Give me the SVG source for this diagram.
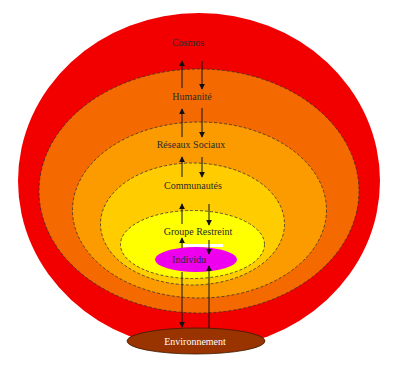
<svg xmlns="http://www.w3.org/2000/svg" width="400" height="373" viewBox="0 0 400 373">
<style>
.ring{stroke:#333;stroke-width:0.8;stroke-dasharray:3 2}
.lbl{font-family:"Liberation Serif","DejaVu Serif","Times New Roman",serif;font-size:10px;fill:#2a2a2a;text-anchor:middle}
.arr{stroke:#111;stroke-width:1;fill:none;marker-end:url(#ah)}
</style>
<defs>
<marker id="ah" viewBox="0 0 8 8" refX="7" refY="4" markerWidth="6" markerHeight="6" orient="auto" markerUnits="userSpaceOnUse">
<path d="M0,0 L8,4 L0,8 z" fill="#111"/>
</marker>
</defs>
<rect width="400" height="373" fill="#fff"/>
<g id="cosmos">
<ellipse cx="199" cy="181" rx="181" ry="168" fill="#f20000"/>
<text class="lbl" font-family="Liberation Serif, serif" x="188" y="46">Cosmos</text>
</g>
<g id="humanite">
<ellipse class="ring" cx="199" cy="191" rx="160" ry="122" fill="#f56a00"/>
<text class="lbl" font-family="Liberation Serif, serif" x="192" y="100">Humanité</text>
</g>
<g id="reseaux">
<ellipse class="ring" cx="199.5" cy="210" rx="127" ry="88" fill="#fb9b00"/>
<text class="lbl" font-family="Liberation Serif, serif" x="191" y="148">Réseaux Sociaux</text>
</g>
<g id="communautes">
<ellipse class="ring" cx="192.5" cy="224" rx="92" ry="61" fill="#ffcc00"/>
<text class="lbl" font-family="Liberation Serif, serif" x="193" y="189">Communautés</text>
</g>
<g id="groupe">
<ellipse class="ring" cx="192.5" cy="244.5" rx="72" ry="34" fill="#ffff00"/>
<text class="lbl" font-family="Liberation Serif, serif" x="198" y="235">Groupe Restreint</text>
</g>
<rect x="183" y="244" width="40" height="3" fill="#fff"/>
<g id="individu">
<ellipse cx="196" cy="259.5" rx="41" ry="12.5" fill="#ee00ee"/>
<text class="lbl" font-family="Liberation Serif, serif" x="189" y="263">Individu</text>
</g>
<g id="environnement">
<ellipse cx="196" cy="341" rx="69" ry="13" fill="#993300" stroke="#3a1a00" stroke-width="0.8"/>
<text class="lbl" font-family="Liberation Serif, serif" x="195" y="345" style="fill:#fff">Environnement</text>
</g>
<g id="connectors">
<line class="arr" x1="182" y1="88" x2="182" y2="61"/>
<line class="arr" x1="202" y1="61" x2="202" y2="89"/>
<line class="arr" x1="182" y1="137" x2="182" y2="109"/>
<line class="arr" x1="202" y1="108" x2="202" y2="137"/>
<line class="arr" x1="182" y1="177" x2="182" y2="157"/>
<line class="arr" x1="202" y1="157" x2="202" y2="177"/>
<line class="arr" x1="182" y1="224" x2="182" y2="204"/>
<line class="arr" x1="209" y1="204" x2="209" y2="225"/>
<line class="arr" x1="182" y1="248" x2="182" y2="238"/>
<line class="arr" x1="209" y1="240" x2="209" y2="254"/>
<line class="arr" x1="182" y1="272" x2="182" y2="327"/>
<line class="arr" x1="209" y1="328" x2="209" y2="266"/>
</g>
</svg>
